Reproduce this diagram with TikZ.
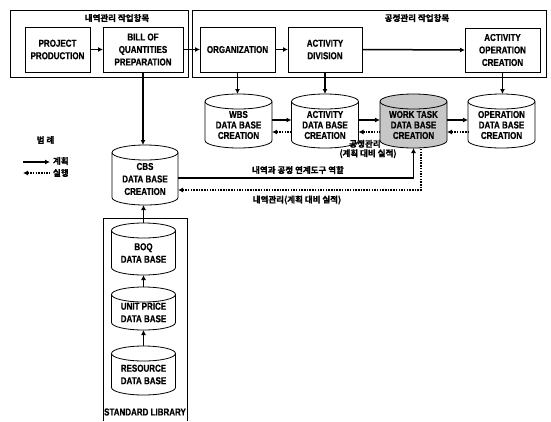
\documentclass[tikz,border=0pt]{standalone}
\usepackage{fontspec}
\setmainfont{Liberation Sans}[FakeStretch=0.8, BoldFeatures={FakeBold=0.6}]
\newfontfamily\kr{Noto Sans CJK KR}[BoldFont={Noto Sans CJK KR Bold}, BoldFeatures={FakeBold=0.8}]
\usetikzlibrary{arrows.meta}
\newcommand\lbl{\fontsize{10}{12.5}\selectfont\bfseries}
\newcommand\lbltop{\fontsize{10}{10.5}\selectfont\bfseries}
\newcommand\krl{\kr\bfseries\fontsize{8.5}{9.5}\selectfont}
\newcommand\dbcyl[8]{% name, cx, cy, w, h, fill, text style, text
  \node[cylbox, minimum width=#4pt, minimum height=#5pt] (#1) at (#2,#3) {};
  \filldraw[cylline, fill=#6] ([yshift=-\cylry]#1.north west) -- ([yshift=\cylry]#1.south west)
     arc[start angle=180, end angle=360, x radius=#4pt/2, y radius=\cylry]
     -- ([yshift=-\cylry]#1.north east)
     arc[start angle=0, end angle=180, x radius=#4pt/2, y radius=\cylry] -- cycle;
  \draw[cylline] ([yshift=-\cylry]#1.north west)
     arc[start angle=180, end angle=360, x radius=#4pt/2, y radius=\cylry];
  \node[#7] (#1-t) at ([yshift=-4pt]#1.center) {#8};
}
\def\cylry{7.5pt}
\begin{document}
\begin{tikzpicture}[x=1pt,y=-1pt,
  every node/.style={inner sep=0pt, outer sep=0pt},
  groupbox/.style={draw, line width=0.8pt},
  procbox/.style={draw, line width=0.8pt, align=center, font=\lbl},
  cylbox/.style={draw=none, inner sep=0pt, outer sep=0pt},
  cylline/.style={line width=0.8pt},
  cyltext/.style={align=center, font=\lbl},
  cyltexttop/.style={align=center, font=\lbltop},
  krtext/.style={font=\krl, align=center},
  plan/.style={line width=1.5pt, -{Latex[length=5pt,width=5pt]}},
  act/.style={line width=1.5pt, dash pattern=on 1.5pt off 1.2pt, {Latex[length=5pt,width=5pt]}-}
]
\useasboundingbox (0,0) rectangle (551,421);

% groups
\node[groupbox, minimum width=178pt, minimum height=67pt] (g1) at (99,43.5) {};
\node[groupbox, minimum width=354pt, minimum height=67pt] (g2) at (369,43.5) {};
\node[krtext] (g1t) at (117,18) {내역관리 작업항목};
\node[krtext] (g2t) at (417,18) {공정관리 작업항목};

% process boxes
\node[procbox, minimum width=65pt, minimum height=45pt] (proj) at (57.5,49.5) {PROJECT\\PRODUCTION};
\node[procbox, minimum width=80pt, minimum height=45pt] (bill) at (143,49.5) {BILL OF\\QUANTITIES\\PREPARATION};
\node[procbox, minimum width=75pt, minimum height=45pt] (org) at (237.5,49.5) {ORGANIZATION};
\node[procbox, minimum width=74pt, minimum height=45pt] (adiv) at (325,49.5) {ACTIVITY\\DIVISION};
\node[procbox, minimum width=75pt, minimum height=44pt] (aop) at (502.5,50) {ACTIVITY\\OPERATION\\CREATION};

% databases
\dbcyl{wbs}{238.5}{121}{67}{54}{white}{cyltexttop}{WBS\\DATA BASE\\CREATION}
\dbcyl{actdb}{325}{121}{67}{54}{white}{cyltexttop}{ACTIVITY\\DATA BASE\\CREATION}
\dbcyl{wt}{413.5}{121}{67}{54}{black!22}{cyltexttop}{WORK TASK\\DATA BASE\\CREATION}
\dbcyl{opdb}{501.5}{121}{67}{54}{white}{cyltexttop}{OPERATION\\DATA BASE\\CREATION}
\dbcyl{cbs}{145}{175}{66}{60}{white}{cyltext}{CBS\\DATA BASE\\CREATION}
\dbcyl{boq}{143.5}{249}{64}{52}{white}{cyltext}{BOQ\\DATA BASE}
\dbcyl{up}{143.5}{308.5}{64}{43}{white}{cyltext}{UNIT PRICE\\DATA BASE}
\dbcyl{res}{143.5}{370.5}{64}{49}{white}{cyltext}{RESOURCE\\DATA BASE}

% standard library frame
\coordinate (sl1) at (103,421);
\coordinate (sl2) at (103,218);
\coordinate (sl3) at (187,218);
\coordinate (sl4) at (187,421);
\draw[line width=0.8pt] (sl1) -- (sl2) -- (sl3) -- (sl4);
\node[font=\lbl] (slt) at (145,412) {STANDARD LIBRARY};

% top flow
\draw[plan] (proj.east) -- (bill.west);
\draw[plan] (bill.east) -- (org.west);
\draw[plan] (org.east) -- (adiv.west);
\draw[plan] (adiv.east) -- (aop.west);
\draw[plan] (org.south) -- (org.south |- wbs.north);
\draw[plan] (adiv.south) -- (adiv.south |- actdb.north);
\draw[plan] (aop.south) -- (aop.south |- opdb.north);
\draw[plan] (bill.south) -- (bill.south |- cbs.north);

% database row links
\draw[plan] ([yshift=1pt]wbs.east) -- ([yshift=1pt]actdb.west);
\draw[act] ([yshift=-11pt]wbs.east) -- ([yshift=-11pt]actdb.west);
\draw[plan] ([yshift=1pt]actdb.east) -- ([yshift=1pt]wt.west);
\draw[act] ([yshift=-11pt]actdb.east) -- ([yshift=-11pt]wt.west);
\draw[plan] ([yshift=1pt]wt.east) -- ([yshift=1pt]opdb.west);
\draw[act] ([yshift=-11pt]wt.east) -- ([yshift=-11pt]opdb.west);

% CBS <-> work task
\draw[plan] ([yshift=-3pt]cbs.east) -| (wt.south);
\draw[act] ([yshift=-15pt]cbs.east) -| ([xshift=7.5pt]wt.south);
\node[krtext] (lk1) at (298,170) {내역과 공정 연계도구 역할};
\node[krtext] (lk2) at (297,200) {내역관리(계획 대비 실적)};
\node[krtext] (lk3) at (368,149) {\hspace*{-6pt}공정관리\\(계획 대비 실적)};

% library links
\draw[plan] (res.north) -- (up.south);
\draw[plan] (up.north) -- (boq.south);
\draw[plan] (boq.north) -- (boq.north |- cbs.south);

% legend
\node[krtext] (legt) at (45.5,140) {범 례};
\coordinate (la1) at (23,162);
\coordinate (la2) at (50,162);
\coordinate (lb1) at (23,173);
\coordinate (lb2) at (50,173);
\draw[plan] (la1) -- (la2);
\draw[act] (lb1) -- (lb2);
\node[krtext, anchor=west] (legp) at (53,161) {계획};
\node[krtext, anchor=west] (lega) at (53,173) {실행};
\end{tikzpicture}
\end{document}
